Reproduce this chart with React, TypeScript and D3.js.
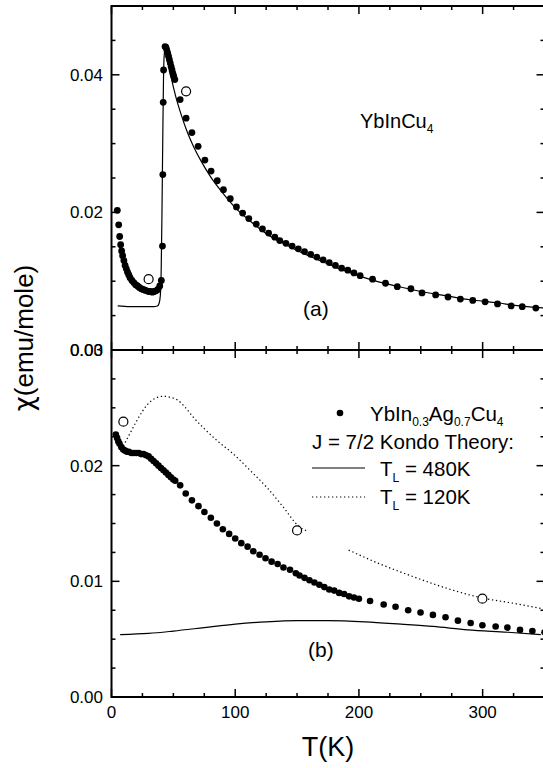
import React from 'react';
import * as d3 from 'd3';

type Pt = [number, number];

//  panel (a) YbInCu4 measured chi, [T(K), chi(emu/mole)]
const dotsA: Pt[] = [
    [4.7, 0.0203], [5.8, 0.0182], [6.6, 0.0165], [7.4, 0.0153], [8.2, 0.0144], [9.0, 0.0137],
    [10, 0.0130], [11, 0.0123], [12, 0.0118], [13, 0.0113], [14, 0.0109], [15, 0.0105],
    [16.5, 0.0101], [18, 0.0098], [19.5, 0.0095], [21, 0.0093], [22.5, 0.0091], [24, 0.0089],
    [25.5, 0.0088], [27, 0.0087], [28.5, 0.0086], [30, 0.0085], [31.5, 0.0085], [33, 0.0084],
    [34.5, 0.0085], [36, 0.0086], [37.5, 0.0088], [39, 0.0093], [40.3, 0.0101],
    [41.2, 0.0151], [41.5, 0.0255], [41.8, 0.0360], [42.1, 0.0407],
    [43.3, 0.0441], [44, 0.0440], [44.7, 0.0436], [45.4, 0.0432], [46.1, 0.0427], [46.8, 0.0422],
    [47.5, 0.0417], [48.2, 0.0412], [48.9, 0.0407], [49.6, 0.0402], [50.3, 0.0398], [51.2, 0.0393],
    [55.5, 0.0364], [60.3, 0.0337], [65, 0.0316], [70, 0.0296], [75.5, 0.0276], [80.5, 0.0260],
    [85.5, 0.0246], [90.5, 0.0233], [96, 0.0220], [101, 0.0208], [106, 0.0199], [111, 0.0191],
    [117, 0.0183], [122, 0.0176], [127, 0.0170], [132, 0.0164], [136, 0.0159], [141, 0.0155],
    [146, 0.0151], [151, 0.0147], [156, 0.0143], [161, 0.0139], [166, 0.0135], [171, 0.0131],
    [176, 0.0127], [181, 0.0123], [186, 0.0119], [191, 0.0116], [196, 0.0112], [201, 0.0108],
    [211, 0.0103], [221.5, 0.0097], [231, 0.0092], [242, 0.0089], [251, 0.0083], [262, 0.0080],
    [272, 0.0077], [282, 0.0074], [292, 0.0072], [302, 0.0070], [312, 0.0067], [323, 0.0064],
    [332, 0.0063], [343, 0.0061],
];
const openA: Pt[] = [[30, 0.0103], [60.3, 0.0376]];
const theoryA: Pt[] = [
    [5, 0.0064], [15, 0.0063], [25, 0.0063], [34, 0.0063], [37, 0.0064], [38.5, 0.0068],
    [39.5, 0.0080], [40.2, 0.0120], [40.8, 0.0200], [41.4, 0.0300], [42, 0.0390], [42.6, 0.0428],
    [43.4, 0.0437], [45, 0.0424], [48, 0.0398], [52, 0.0368], [56, 0.0344], [61, 0.0318],
    [66, 0.0297], [72, 0.0276], [80, 0.0252], [90, 0.0228], [100, 0.0207], [113, 0.0186],
    [126, 0.0168], [140, 0.0154], [153, 0.0142], [166, 0.0132], [180, 0.0121], [195, 0.0111],
    [210, 0.0102], [230, 0.0093], [250, 0.0085], [270, 0.0079], [290, 0.0073], [310, 0.0069],
    [330, 0.0064], [350, 0.0061],
];

//  panel (b) YbIn0.3Ag0.7Cu4
const dotsB: Pt[] = [
    [3.5, 0.0227], [4.5, 0.0224], [5.5, 0.0221], [6.5, 0.0219], [8, 0.0216], [9.5, 0.0214],
    [11, 0.0213], [12.5, 0.0212], [14, 0.0212], [16, 0.0211], [18, 0.0211], [20, 0.0211],
    [22, 0.0211], [24, 0.0210], [26, 0.0210], [28, 0.0209], [30, 0.0208], [32, 0.0206],
    [34, 0.0204], [36, 0.0202], [38, 0.0200], [40, 0.0198], [42, 0.0196], [44, 0.0194],
    [46, 0.0192], [48, 0.0190], [50, 0.0188], [51.5, 0.0187],
    [55.5, 0.0183], [60, 0.0176], [65, 0.0170], [70.3, 0.0165], [75.1, 0.0160], [80.3, 0.0155],
    [85.2, 0.0150], [90, 0.0145], [95.1, 0.0141], [100, 0.0137], [104.9, 0.0133], [110, 0.0130],
    [114.6, 0.0126], [119.7, 0.0123], [124.5, 0.0120], [129.4, 0.0117], [134.3, 0.0115],
    [139, 0.0112], [144.3, 0.0110], [149, 0.0107],
    [152, 0.0105], [156, 0.0103], [160, 0.0101], [164, 0.0099], [168, 0.0097], [172, 0.0095],
    [176, 0.0093], [180, 0.0092], [184, 0.0090], [188, 0.0089], [192, 0.0087], [196, 0.0086],
    [200, 0.0085],
    [209, 0.0083], [220, 0.0080], [229.6, 0.0078], [239.8, 0.0075], [249.8, 0.0073],
    [259.8, 0.0071], [270, 0.0069], [280, 0.0066], [290.3, 0.0064], [299.8, 0.0062],
    [310.5, 0.0061], [320, 0.0060], [330.2, 0.0058], [340.2, 0.0057], [350, 0.0056],
];
const openB: Pt[] = [[9.6, 0.0238], [150, 0.0144], [299.8, 0.0085]];
const kondo480: Pt[] = [
    [7, 0.0054], [30, 0.0055], [50, 0.0057], [75, 0.0060], [100, 0.0063], [125, 0.0065],
    [150, 0.0066], [175, 0.0066], [205, 0.0065], [234, 0.0063], [260, 0.0061], [288, 0.0058],
    [320, 0.0056], [347, 0.0054],
];
//  the 120K curve is broken in two pieces in the figure
const kondo120a: Pt[] = [
    [11, 0.0220], [15, 0.0228], [20, 0.0238], [25, 0.0247], [31, 0.0255], [37, 0.0259],
    [42, 0.0260], [48, 0.0259], [53, 0.0257], [60, 0.0250], [66, 0.0242], [75, 0.0232],
    [85, 0.0222], [98.6, 0.0210], [112, 0.0196], [125.7, 0.0181], [139, 0.0164], [151, 0.0148],
    [159, 0.0143],
];
const kondo120b: Pt[] = [
    [191.7, 0.0127], [217, 0.0115], [244, 0.0104], [271, 0.0094], [298, 0.0086], [325, 0.0081],
    [350, 0.0076],
];

const xLabels = [0, 100, 200, 300];
const yLabelsA = [0, 0.02, 0.04];
const yLabelsB = [0, 0.01, 0.02, 0.03];

const font = '"Liberation Sans", Arial, sans-serif';

export default function App() {
    const left = 111.5, right = 544.5;
    const topA = 6, mid = 350, bottom = 697;

    const x = d3.scaleLinear().domain([0, 350]).range([left, right]);
    const yA = d3.scaleLinear().domain([0, 0.05]).range([mid, topA]);
    const yB = d3.scaleLinear().domain([0, 0.03]).range([bottom, mid]);

    const lineA = d3.line<Pt>().curve(d3.curveMonotoneX).x(d => x(d[0])).y(d => yA(d[1]));
    const lineB = d3.line<Pt>().curve(d3.curveMonotoneX).x(d => x(d[0])).y(d => yB(d[1]));

    //  x ticks every 25, big ones every 100
    const xt = d3.range(0, 351, 25);
    const isBigX = (t: number) => t % 100 === 0;

    //  y ticks: every 0.005 on (a), every 0.0025 on (b)
    const ytA = d3.range(0, 11).map(i => i * 0.005);
    const ytB = d3.range(0, 13).map(i => i * 0.0025);
    const isBig = (i: number) => i % 4 === 0;

    const fmt = d3.format('.2f');

    return (
        <svg width={543} height={768} style={{ position: 'absolute', left: 0, top: 0, background: '#fff' }}
            fontFamily={font}>
            <rect x={0} y={0} width={543} height={768} fill="#fff" />

            {/* frame */}
            <g stroke="#000" strokeWidth={2} fill="none">
                <rect x={left} y={topA} width={right - left} height={bottom - topA} />
                <line x1={left} x2={right} y1={mid} y2={mid} />
            </g>

            {/* ticks on all sides, the middle line gets them both ways */}
            <g stroke="#000" strokeWidth={1.5}>
                {xt.map(t => {
                    const L = isBigX(t) ? 8 : 4;
                    return (
                        <g key={'xt' + t}>
                            <line x1={x(t)} x2={x(t)} y1={topA} y2={topA + L} />
                            <line x1={x(t)} x2={x(t)} y1={mid - L} y2={mid + L} />
                            <line x1={x(t)} x2={x(t)} y1={bottom} y2={bottom - L} />
                        </g>
                    );
                })}
                {ytA.map((t, i) => {
                    const L = isBig(i) ? 8 : 4;
                    return (
                        <g key={'ya' + i}>
                            <line x1={left} x2={left + L} y1={yA(t)} y2={yA(t)} />
                            <line x1={right} x2={right - L} y1={yA(t)} y2={yA(t)} />
                        </g>
                    );
                })}
                {ytB.map((t, i) => {
                    const L = isBig(i) ? 8 : 4;
                    return (
                        <g key={'yb' + i}>
                            <line x1={left} x2={left + L} y1={yB(t)} y2={yB(t)} />
                            <line x1={right} x2={right - L} y1={yB(t)} y2={yB(t)} />
                        </g>
                    );
                })}
            </g>

            {/* tick labels */}
            <g fontSize={17} fill="#000">
                {xLabels.map(t => (
                    <text key={'xl' + t} x={x(t)} y={718} textAnchor="middle">{t}</text>
                ))}
                {yLabelsA.map(t => (
                    <text key={'yla' + t} x={103} y={yA(t) + 6} textAnchor="end">{fmt(t)}</text>
                ))}
                {yLabelsB.map(t => (
                    <text key={'ylb' + t} x={103} y={yB(t) + 6} textAnchor="end">{fmt(t)}</text>
                ))}
            </g>

            {/* axis titles */}
            <text x={328} y={756} textAnchor="middle" fontSize={27}>T(K)</text>
            <text transform="translate(33,338) rotate(-90)" textAnchor="middle" fontSize={26}>
                <tspan fontFamily='"DejaVu Sans", sans-serif'>χ</tspan>(emu/mole)
            </text>

            {/* panel (a) */}
            <path d={lineA(theoryA) || ''} fill="none" stroke="#000" strokeWidth={1.2} />
            {dotsA.map((d, i) => (
                <circle key={'da' + i} cx={x(d[0])} cy={yA(d[1])} r={3.4} fill="#000" />
            ))}
            {openA.map((d, i) => (
                <circle key={'oa' + i} cx={x(d[0])} cy={yA(d[1])} r={4.5} fill="#fff" stroke="#000" strokeWidth={1.2} />
            ))}
            <text x={360} y={128} fontSize={20}>YbInCu<tspan fontSize={12} dy={5}>4</tspan></text>
            <text x={303} y={316} fontSize={21}>(a)</text>

            {/* panel (b) */}
            <path d={lineB(kondo480) || ''} fill="none" stroke="#000" strokeWidth={1.2} />
            <path d={lineB(kondo120a) || ''} fill="none" stroke="#000" strokeWidth={1.2} strokeDasharray="1.3,2.7" />
            <path d={lineB(kondo120b) || ''} fill="none" stroke="#000" strokeWidth={1.2} strokeDasharray="1.3,2.7" />
            {dotsB.map((d, i) => (
                <circle key={'db' + i} cx={x(d[0])} cy={yB(d[1])} r={3.3} fill="#000" />
            ))}
            {openB.map((d, i) => (
                <circle key={'ob' + i} cx={x(d[0])} cy={yB(d[1])} r={4.5} fill="#fff" stroke="#000" strokeWidth={1.2} />
            ))}
            <text x={308} y={657} fontSize={21}>(b)</text>

            {/* legend */}
            <g fontSize={20.5} fill="#000">
                <circle cx={340} cy={413} r={3.3} fill="#000" />
                <text x={370} y={421}>
                    YbIn<tspan fontSize={12} dy={5}>0.3</tspan>
                    <tspan dy={-5}>Ag</tspan><tspan fontSize={12} dy={5}>0.7</tspan>
                    <tspan dy={-5}>Cu</tspan><tspan fontSize={12} dy={5}>4</tspan>
                </text>
                <text x={312} y={449}>J = 7/2 Kondo Theory:</text>
                <line x1={312} x2={365} y1={468} y2={468} stroke="#000" strokeWidth={1.2} />
                <text x={380} y={476}>T<tspan fontSize={12} dy={6}>L</tspan><tspan dy={-6}> = 480K</tspan></text>
                <line x1={312} x2={365} y1={497} y2={497} stroke="#000" strokeWidth={1.2} strokeDasharray="1.3,2.7" />
                <text x={380} y={504}>T<tspan fontSize={12} dy={6}>L</tspan><tspan dy={-6}> = 120K</tspan></text>
            </g>
        </svg>
    );
}
